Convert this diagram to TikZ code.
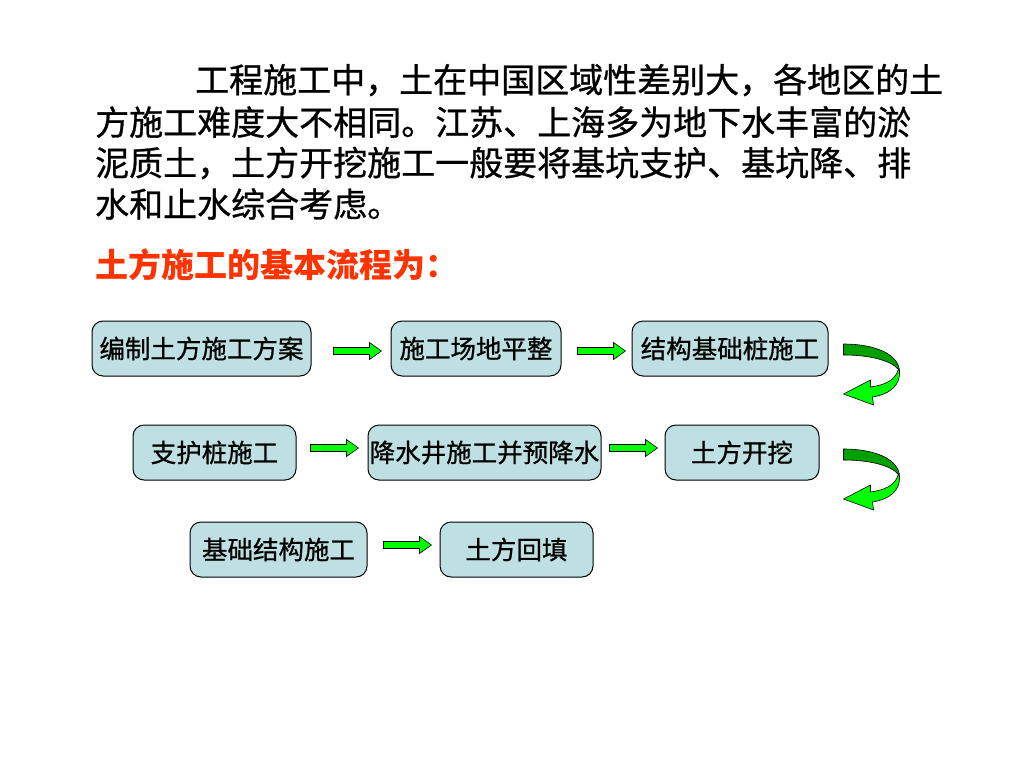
\documentclass[tikz,border=0pt]{standalone}
\usepackage{fontspec}
\setmainfont{Noto Sans CJK SC}
\newfontfamily\medfont{Noto Sans CJK SC}[FakeBold=0.8]
\usetikzlibrary{calc}
\definecolor{boxfill}{RGB}{190,224,226}
\definecolor{headred}{RGB}{255,51,0}
\definecolor{brightgreen}{RGB}{0,255,0}
\definecolor{darkgreen}{RGB}{0,160,0}
\tikzset{
  flowbox/.style={draw=black, line width=1pt, fill=boxfill, rounded corners=11pt,
    minimum height=55pt, inner sep=0pt, font=\medfont\fontsize{25.5}{30}\selectfont},
  bodytext/.style={anchor=west, inner sep=0pt, font=\medfont\fontsize{34}{40}\selectfont},
  blockarrow/.pic={
    \filldraw[fill=brightgreen, draw=black, line width=0.6pt]
      (0,-3.5) -- (36,-3.5) -- (36,-8.5) -- (48,0) -- (36,8.5) -- (36,3.5) -- (0,3.5) -- cycle;
  },
  turnarrow/.pic={
    \filldraw[fill=darkgreen, draw=black, line width=0.6pt]
      (0,0) .. controls (33,0) and (56,11) .. (56,28)
      .. controls (54,20) and (34,11) .. (0,11) -- cycle;
    \filldraw[fill=brightgreen, draw=black, line width=0.6pt]
      (56,27) .. controls (57,40) and (48,50) .. (29,53) -- (30,61) -- (0,50) -- (27,36) -- (27,43)
      .. controls (42,41) and (52,36) .. (55,25) -- cycle;
  }
}
\begin{document}
\begin{tikzpicture}[x=1pt,y=-1pt]
\useasboundingbox[fill=white] (0,0) rectangle (1024,768);

% paragraph
\node[bodytext] (l1) at (195,80) {工程施工中，土在中国区域性差别大，各地区的土};
\node[bodytext] (l2) at (95,122) {方施工难度大不相同。江苏、上海多为地下水丰富的淤};
\node[bodytext] (l3) at (95,163) {泥质土，土方开挖施工一般要将基坑支护、基坑降、排};
\node[bodytext] (l4) at (95,204) {水和止水综合考虑。};
\node[bodytext, text=headred, font=\fontsize{33}{40}\selectfont\bfseries] (hd) at (95,265) {土方施工的基本流程为：};

% boxes
\node[flowbox, minimum width=219pt] (b1) at (201.5,348.5) {编制土方施工方案};
\node[flowbox, minimum width=170pt] (b2) at (476,348.5) {施工场地平整};
\node[flowbox, minimum width=196pt] (b3) at (730,348.5) {结构基础桩施工};
\node[flowbox, minimum width=163pt] (b4) at (214.5,452.5) {支护桩施工};
\node[flowbox, minimum width=233pt] (b5) at (484.5,452.5) {降水井施工并预降水};
\node[flowbox, minimum width=154pt] (b6) at (742,452.5) {土方开挖};
\node[flowbox, minimum width=177pt] (b7) at (278.5,549.5) {基础结构施工};
\node[flowbox, minimum width=153pt] (b8) at (516.5,549.5) {土方回填};

% straight block arrows
\pic at ($(b1.east)+(22,2.5)$) {blockarrow};
\pic at ($(b2.east)+(16,2.5)$) {blockarrow};
\pic at ($(b4.east)+(14,-4.5)$) {blockarrow};
\pic at ($(b5.east)+(8,-4.5)$) {blockarrow};
\pic at ($(b7.east)+(16,-4.5)$) {blockarrow};

% turning arrows
\pic at ($(b3.east)+(15,-4.5)$) {turnarrow};
\pic at ($(b6.east)+(24,-3.5)$) {turnarrow};
\end{tikzpicture}
\end{document}
